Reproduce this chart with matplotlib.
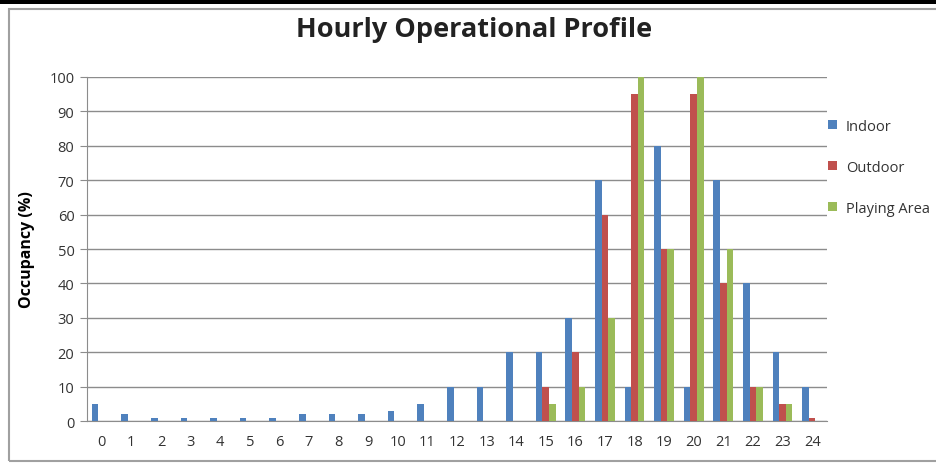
import numpy as np
import matplotlib.pyplot as plt
from matplotlib.patches import Rectangle

# hourly occupancy profile (%)
hours = list(range(25))
indoor = [5, 2, 1, 1, 1, 1, 1, 2, 2, 2, 3, 5, 10, 10, 20, 20, 30, 70, 10, 80, 10, 70, 40, 20, 10]
outdoor = [0, 0, 0, 0, 0, 0, 0, 0, 0, 0, 0, 0, 0, 0, 0, 10, 20, 60, 95, 50, 95, 40, 10, 5, 1]
playing = [0, 0, 0, 0, 0, 0, 0, 0, 0, 0, 0, 0, 0, 0, 0, 5, 10, 30, 100, 50, 100, 50, 10, 5, 0]

series_names = ['Indoor', 'Outdoor', 'Playing Area']
colors = ['#4F81BD', '#C0504D', '#9BBB59']

plt.rcParams['font.family'] = ['Open Sans', 'DejaVu Sans']

fig = plt.figure(figsize=(9.36, 4.64), dpi=100)
ax = fig.add_axes([0.0929, 0.0905, 0.7906, 0.7414])

x = np.arange(len(hours))
w = 1 / 4.5
for i, (vals, name, c) in enumerate(zip([indoor, outdoor, playing], series_names, colors)):
    ax.bar(x + (i - 1) * w, vals, width=w, color=c, label=name, zorder=3)

ax.set_xlim(-0.5, len(hours) - 0.5)
ax.set_ylim(0, 100)
ax.set_yticks(range(0, 101, 10))
ax.set_xticks(x)
ax.set_xticklabels([str(h) for h in hours])
ax.yaxis.grid(True, color='#8c8c8c', linewidth=1)
ax.set_axisbelow(True)
for s in ['top', 'right']:
    ax.spines[s].set_visible(False)
ax.spines['left'].set_color('#8c8c8c')
ax.spines['bottom'].set_color('#8c8c8c')
ax.tick_params(axis='y', colors='#8c8c8c', labelcolor='#333333', labelsize=10.5, length=5, pad=4)
ax.tick_params(axis='x', length=0, labelcolor='#333333', labelsize=10.5, pad=9)
ax.set_ylabel('Occupancy (%)', fontsize=11.5, fontweight='bold', labelpad=10)

fig.text(0.506, 0.936, 'Hourly Operational Profile', ha='center', va='center',
         fontsize=19.5, fontweight='bold', color='#222222')

fig.legend(loc='upper left', bbox_to_anchor=(0.871, 0.77), frameon=False,
           fontsize=10.5, handlelength=0.6, handleheight=0.6, handletextpad=0.6,
           labelspacing=1.78, labelcolor='#333333')

# chart frame and top rule
fig.add_artist(Rectangle((9 / 936, 2 / 464), 1.0, 452 / 464, transform=fig.transFigure,
                         fill=False, edgecolor='#a0a0a0', linewidth=1.5))
fig.add_artist(Rectangle((0, 1 - 5 / 464), 1, 5 / 464, transform=fig.transFigure,
                         color='black', linewidth=0))

fig.savefig('out.png', dpi=100)
